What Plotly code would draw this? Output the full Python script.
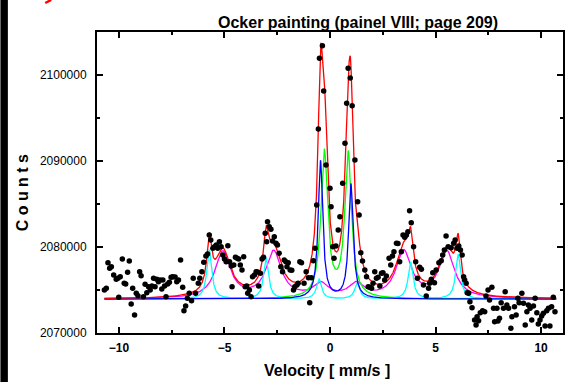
import numpy as np
import plotly.graph_objects as go

# Measured spectrum: velocity (mm/s) and counts
velocity = [
    -10.69, -10.60, -10.52, -10.44, -10.36, -10.25, -10.13, -10.05, -10.01, -9.94,
    -9.84, -9.75, -9.68, -9.59, -9.51, -9.42, -9.35, -9.26, -9.18, -9.10,
    -9.02, -8.95, -8.84, -8.76, -8.68, -8.60, -8.52, -8.44, -8.36, -8.29,
    -8.21, -8.13, -8.05, -7.97, -7.92, -7.84, -7.77, -7.69, -7.61, -7.53,
    -7.45, -7.34, -7.26, -7.18, -7.08, -6.98, -6.92, -6.84, -6.76, -6.67,
    -6.56, -6.48, -6.37, -6.24, -6.17, -6.07, -5.98, -5.88, -5.80, -5.72,
    -5.65, -5.55, -5.47, -5.39, -5.32, -5.24, -5.16, -5.08, -5.00, -4.92,
    -4.84, -4.76, -4.68, -4.64, -4.56, -4.48, -4.40, -4.33, -4.25, -4.17,
    -4.09, -4.02, -3.95, -3.90, -3.82, -3.74, -3.67, -3.58, -3.50, -3.43,
    -3.38, -3.30, -3.22, -3.15, -3.07, -3.00, -2.96, -2.88, -2.80, -2.72,
    -2.64, -2.56, -2.49, -2.41, -2.33, -2.25, -2.17, -2.09, -2.04, -1.98,
    -1.89, -1.81, -1.73, -1.67, -1.57, -1.51, -1.43, -1.35, -1.23, -1.13,
    -1.02, -0.96, -0.88, -0.79, -0.71, -0.63, -0.55, -0.50, -0.36, -0.30,
    -0.19, 0.00, 0.05, 0.13, 0.19, 0.28, 0.39, 0.47, 0.60, 0.71,
    0.79, 0.86, 0.96, 1.05, 1.18, 1.31, 1.38, 1.46, 1.54, 1.65,
    1.73, 1.81, 1.89, 1.97, 2.04, 2.12, 2.20, 2.28, 2.36, 2.44,
    2.51, 2.59, 2.67, 2.80, 2.88, 2.96, 3.03, 3.15, 3.22, 3.30,
    3.38, 3.46, 3.54, 3.62, 3.69, 3.77, 3.85, 3.96, 4.06, 4.14,
    4.25, 4.33, 4.43, 4.56, 4.67, 4.72, 4.80, 4.87, 4.95, 5.03,
    5.16, 5.27, 5.34, 5.42, 5.50, 5.60, 5.74, 5.86, 5.93, 6.02,
    6.10, 6.18, 6.26, 6.33, 6.38, 6.45, 6.50, 6.57, 6.63, 6.73,
    6.85, 6.92, 6.97, 7.04, 7.12, 7.23, 7.33, 7.39, 7.49, 7.56,
    7.67, 7.75, 7.80, 7.91, 7.96, 8.03, 8.11, 8.22, 8.30, 8.38,
    8.46, 8.57, 8.62, 8.74, 8.82, 8.90, 8.96, 9.09, 9.17, 9.25,
    9.33, 9.40, 9.48, 9.56, 9.64, 9.72, 9.80, 9.87, 9.95, 10.03,
    10.11, 10.19, 10.27, 10.35, 10.42, 10.50, 10.58, 10.66,
]
counts = [
    2075000, 2075200, 2078170, 2077520, 2077710, 2076740, 2076240, 2076360, 2074150, 2076550,
    2078600, 2075780, 2075700, 2077060, 2078370, 2073370, 2075200, 2072090, 2074620, 2074340,
    2077130, 2076660, 2074220, 2075660, 2074690, 2075380, 2075000, 2075470, 2076360, 2075380,
    2076240, 2075970, 2076160, 2075120, 2076160, 2075470, 2074220, 2075700, 2075900, 2076480,
    2076550, 2076500, 2075970, 2076160, 2078490, 2075310, 2072590, 2073140, 2074030, 2074620,
    2073760, 2076360, 2074620, 2075780, 2076360, 2077130, 2078220, 2078950, 2079190, 2081400,
    2080810, 2079850, 2080030, 2080230, 2079850, 2080620, 2080030, 2079070, 2078600, 2078290,
    2080150, 2078290, 2077790, 2075380, 2077910, 2078800, 2078690, 2078600, 2077910, 2077330,
    2078870, 2075380, 2075470, 2074620, 2075000, 2074220, 2076550, 2076740, 2077130, 2077100,
    2075470, 2076940, 2078600, 2078800, 2081590, 2080620, 2082940, 2082360, 2082060, 2080700,
    2081200, 2080430, 2080230, 2079270, 2077710, 2077130, 2078490, 2078290, 2077710, 2078170,
    2077330, 2077300, 2075000, 2075380, 2075580, 2075780, 2078290, 2078170, 2075780, 2077130,
    2076430, 2073520, 2076430, 2078410, 2079850, 2084880, 2093720, 2101940, 2103410, 2098140,
    2089540, 2086830, 2084690, 2080030, 2078690, 2080120, 2081980, 2083520, 2087410, 2092060,
    2096710, 2100780, 2099650, 2096430, 2090120, 2085270, 2083720, 2079340, 2078370, 2077330,
    2076550, 2075380, 2075310, 2075200, 2075780, 2077130, 2076360, 2076480, 2075470, 2076940,
    2077010, 2076160, 2076630, 2078690, 2077910, 2078950, 2079450, 2080430, 2080400, 2078290,
    2079450, 2081400, 2081130, 2081400, 2081780, 2084220, 2082830, 2080030, 2078290, 2076360,
    2077640, 2077410, 2075580, 2074300, 2075200, 2075780, 2076240, 2077010, 2075850, 2077330,
    2078170, 2078410, 2079070, 2079650, 2081280, 2080030, 2079920, 2080430, 2080810, 2079850,
    2080120, 2079650, 2079070, 2076550, 2076160, 2075780, 2074690, 2074620, 2073640, 2072940,
    2071510, 2070930, 2071900, 2071430, 2072360, 2072590, 2072480, 2074300, 2075000, 2073840,
    2075310, 2072870, 2071310, 2072870, 2071400, 2071710, 2073520, 2072870, 2074800, 2073260,
    2072870, 2070550, 2071900, 2073060, 2072090, 2074030, 2073520, 2074620, 2073450, 2070930,
    2072480, 2073260, 2072870, 2071510, 2073140, 2074030, 2072360, 2071050, 2071510, 2071980,
    2072290, 2070810, 2072590, 2072870, 2070810, 2073060, 2074150, 2072480,
]

# Fitted subspectra (Lorentzian lines): centres (mm/s), amplitudes (counts), half widths (mm/s)
baseline = 2073950

sextet_a_centres = [-5.72, -3.03, -0.52, 1.29, 3.82, 6.07]
sextet_a_amps = [5700, 4700, 2300, 1900, 4300, 5200]
sextet_a_hwhm = 0.14

sextet_b_centres = [-5.08, -2.67, -0.44, 1.25, 3.49, 5.53]
sextet_b_amps = [5400, 5400, 1600, 1600, 5400, 5400]
sextet_b_hwhm = 0.44

doublet_a_centres = [-0.27, 0.86]
doublet_a_amps = [17000, 16800]
doublet_a_hwhm = 0.19

doublet_b_centres = [-0.45, 0.99]
doublet_b_amps = [16000, 13300]
doublet_b_hwhm = 0.13

v_fit = np.linspace(-10.69, 10.72, 3000)


def lines(centres, amps, hwhm):
    out = np.zeros_like(v_fit)
    for c, a in zip(centres, amps):
        out += a / (1.0 + ((v_fit - c) / hwhm) ** 2)
    return out


sa = lines(sextet_a_centres, sextet_a_amps, sextet_a_hwhm)
sb = lines(sextet_b_centres, sextet_b_amps, sextet_b_hwhm)
da = lines(doublet_a_centres, doublet_a_amps, doublet_a_hwhm)
db = lines(doublet_b_centres, doublet_b_amps, doublet_b_hwhm)
total = sa + sb + da + db

FONT = "Arial, Liberation Sans, sans-serif"
lw = 1.3

fig = go.Figure()
fig.add_trace(go.Scatter(x=v_fit, y=baseline + sb, mode="lines",
                         line=dict(color="#ff00ff", width=lw)))
fig.add_trace(go.Scatter(x=v_fit, y=baseline + da, mode="lines",
                         line=dict(color="#00ff00", width=lw)))
fig.add_trace(go.Scatter(x=v_fit, y=baseline + sa, mode="lines",
                         line=dict(color="#00ffff", width=lw)))
fig.add_trace(go.Scatter(x=v_fit, y=baseline + db, mode="lines",
                         line=dict(color="#0000ff", width=lw)))
fig.add_trace(go.Scatter(x=v_fit, y=baseline + total, mode="lines",
                         line=dict(color="#ff0000", width=lw)))
fig.add_trace(go.Scatter(x=velocity, y=counts, mode="markers",
                         marker=dict(color="black", size=5.5, line=dict(width=0))))

W, H = 571, 382
L, R, T, B = 97, 6, 32, 49
pw, ph = W - L - R, H - T - B


def px(x):
    return (x - L) / pw


def py(y):
    return (H - B - y) / ph


axis_common = dict(
    showline=True, linecolor="black", linewidth=2, mirror="ticks",
    ticks="inside", ticklen=6, tickwidth=1.5, tickcolor="black",
    showgrid=False, zeroline=False,
    minor=dict(ticks="inside", ticklen=3, tickwidth=1.5, tickcolor="black", showgrid=False),
)

fig.update_xaxes(range=[-11.04, 11.04], tickvals=[-10, -5, 0, 5, 10],
                 minor_dtick=2.5, minor_tick0=0, ticklabelstandoff=3,
                 tickfont=dict(family=FONT, size=12, color="black", weight="bold"),
                 **axis_common)
fig.update_yaxes(range=[2070000, 2105000], tickvals=[2070000, 2080000, 2090000, 2100000],
                 tickformat="d", minor_dtick=5000, minor_tick0=2070000, ticklabelstandoff=6,
                 tickfont=dict(family=FONT, size=12, color="black"),
                 **axis_common)

fig.update_layout(
    width=W, height=H,
    margin=dict(l=L, r=R, t=T, b=B, pad=0),
    plot_bgcolor="white", paper_bgcolor="white",
    showlegend=False,
    annotations=[
        dict(text="Ocker painting (painel VIII; page 209)", x=px(217), y=py(22),
             xref="paper", yref="paper", xanchor="left", yanchor="middle", showarrow=False,
             font=dict(family=FONT, size=16, color="black", weight="bold")),
        dict(text="Velocity [ mm/s ]", x=px(328), y=py(370), xref="paper", yref="paper",
             xanchor="center", yanchor="middle", showarrow=False,
             font=dict(family=FONT, size=16, color="black", weight="bold")),
        dict(text="C o u n t s", x=px(22), y=py(193), xref="paper", yref="paper",
             xanchor="center", yanchor="middle", showarrow=False, textangle=-90,
             font=dict(family=FONT, size=16, color="black", weight="bold")),
    ],
    shapes=[
        dict(type="rect", xref="paper", yref="paper", x0=px(0), x1=px(7.5), y0=py(H), y1=py(0),
             fillcolor="black", line=dict(width=0), layer="above"),
        dict(type="line", xref="paper", yref="paper", x0=px(45), y0=py(3), x1=px(51), y1=py(0),
             line=dict(color="red", width=2.5), layer="above"),
    ],
)

fig.write_html("out.html")
